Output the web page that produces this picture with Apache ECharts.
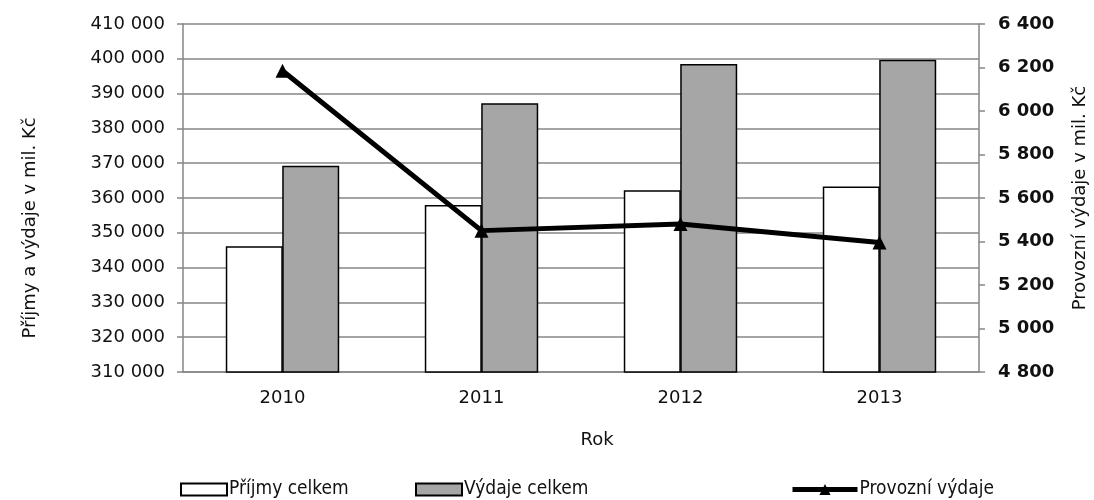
<!DOCTYPE html>
<html>
<head>
<meta charset="utf-8">
<script src="https://cdn.jsdelivr.net/npm/echarts@6/dist/echarts.min.js"></script>
<style>
html,body{margin:0;padding:0;background:#fff;}
#main{width:1094px;height:500px;}
</style>
</head>
<body>
<div id="main"></div>
<script>
const categories = ['2010', '2011', '2012', '2013'];
const prijmy = [346100, 358000, 362200, 363300];
const vydaje = [369300, 387200, 398500, 399700];
const provozni = [6185, 5450, 5480, 5395];
const seriesNames = ['Příjmy celkem', 'Výdaje celkem', 'Provozní výdaje'];
const leftTitle = 'Příjmy a výdaje v mil. Kč';
const rightTitle = 'Provozní výdaje v mil. Kč';
const xTitle = 'Rok';

const FONT = 'DejaVu Sans';
function fmt(v){ return String(v).replace(/\B(?=(\d{3})+(?!\d))/g, ' '); }

const legendText = { fontFamily: 'DejaVu Sans Condensed', fontSize: 19, color: '#111', padding: [0,0,0,-3] };

const chart = echarts.init(document.getElementById('main'));
chart.setOption({
  animation: false,
  backgroundColor: '#ffffff',
  textStyle: { fontFamily: FONT },
  grid: { left: 183, right: 115, top: 24, bottom: 128, containLabel: false },
  xAxis: {
    type: 'category',
    data: categories,
    axisLine: { lineStyle: { color: '#868686', width: 1.5 } },
    axisTick: { show: false },
    axisLabel: { color: '#111', fontSize: 18, fontFamily: FONT, margin: 17 }
  },
  yAxis: [
    {
      type: 'value', min: 310000, max: 410000, interval: 10000,
      axisLine: { show: true, lineStyle: { color: '#868686', width: 1.5 } },
      axisTick: { show: true, length: 6, lineStyle: { color: '#868686', width: 1.5 } },
      splitLine: { lineStyle: { color: '#868686', width: 1.5 } },
      axisLabel: { color: '#111', fontSize: 18, fontFamily: FONT, margin: 18, formatter: fmt }
    },
    {
      type: 'value', min: 4800, max: 6400, interval: 200,
      axisLine: { show: true, lineStyle: { color: '#868686', width: 1.5 } },
      axisTick: { show: true, length: 6, lineStyle: { color: '#868686', width: 1.5 } },
      splitLine: { show: false },
      axisLabel: { color: '#111', fontSize: 18, fontWeight: 'bold', fontFamily: FONT, margin: 19, formatter: fmt }
    }
  ],
  legend: [
    { data: [{ name: seriesNames[0], icon: 'rect' }], left: 175, top: 475, itemWidth: 46, itemHeight: 12,
      textStyle: legendText },
    { data: [{ name: seriesNames[1], icon: 'rect' }], left: 410, top: 475, itemWidth: 46, itemHeight: 12,
      textStyle: legendText },
    { data: [seriesNames[2]], left: 785, top: 475, itemWidth: 65, itemHeight: 14,
      lineStyle: { width: 5, color: '#000' },
      textStyle: legendText }
  ],
  graphic: [
    { type: 'text', x: 30, y: 228, rotation: Math.PI/2, z: 10,
      style: { text: leftTitle, font: '18px "DejaVu Sans"', fill: '#111', align: 'center', verticalAlign: 'middle' } },
    { type: 'text', x: 1080, y: 198, rotation: Math.PI/2, z: 10,
      style: { text: rightTitle, font: '18px "DejaVu Sans"', fill: '#111', align: 'center', verticalAlign: 'middle' } },
    { type: 'text', x: 597, y: 440, z: 10,
      style: { text: xTitle, font: '18px "DejaVu Sans"', fill: '#111', align: 'center', verticalAlign: 'middle' } }
  ],
  series: [
    {
      name: seriesNames[0], type: 'bar', data: prijmy, yAxisIndex: 0,
      barWidth: 57, barGap: '-1%',
      itemStyle: { color: '#ffffff', borderColor: '#000', borderWidth: 1.5 }
    },
    {
      name: seriesNames[1], type: 'bar', data: vydaje, yAxisIndex: 0,
      barWidth: 57, barGap: '-1%',
      itemStyle: { color: '#a6a6a6', borderColor: '#000', borderWidth: 1.5 }
    },
    {
      name: seriesNames[2], type: 'line', data: provozni, yAxisIndex: 1,
      symbol: 'triangle', symbolSize: 14, showSymbol: true,
      lineStyle: { color: '#000', width: 5 },
      itemStyle: { color: '#000' }, z: 5
    }
  ]
});
</script>
</body>
</html>
